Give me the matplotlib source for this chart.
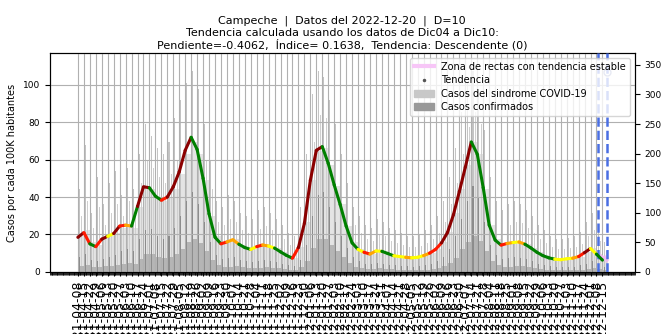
import numpy as np
import pandas as pd
import matplotlib
matplotlib.use("Agg")
import matplotlib.pyplot as plt
import matplotlib.dates as mdates
from matplotlib.lines import Line2D
from matplotlib.patches import Patch
from matplotlib.collections import LineCollection

# semanas (jueves) desde el 2021-04-08
semanas = pd.date_range("2021-04-08", periods=89, freq="7D")

# tendencia (casos por cada 100K habitantes), leida semana a semana
tendencia = [18.5, 21, 15, 13.5, 17.5, 19, 20.5, 24.5, 25, 24.5,
             35, 45.5, 45, 40.5, 38.3, 40, 45.5, 53.5, 65, 72,
             65.5, 50, 31, 18.5, 15, 16, 17.2, 14.8, 13, 12,
             13.5, 14.4, 13.8, 12.7, 10.7, 8.8, 7.3, 13, 26, 49,
             65, 67, 58, 46.5, 36, 24.5, 15.5, 12, 10.5, 9.5,
             11.2, 11, 9.8, 8.6, 8.2, 7.8, 7.5, 7.8, 8.7, 10,
             12, 15.5, 21, 30.5, 43, 56, 69.5, 63, 45, 25,
             17, 14.3, 15.2, 15.7, 16, 14.8, 12.8, 10.5, 8.7, 7.5,
             6.8, 6.5, 7, 7.3, 8.2, 10.3, 12.5, 9.5, 6.3]

# codigo de color de la tendencia en cada semana
codigos = ("RrgrRyRrog" "RRggrRRRRg" "ggggrooggy" "roygggrRRR" "Rggggggyro"
           "yggyyoyyor" "rRRRRRgggg" "groyoggggg" "yyyorRygg")
colores = {"R": "#8b0000", "r": "#ff1a00", "o": "#ffa500", "y": "#ffff00", "g": "#008000"}

# casos diarios (eje derecho): pico semanal y nivel tipico
sind_pico = [140, 215, 100, 160, 115, 150, 170, 130, 175, 140,
             200, 250, 230, 210, 200, 220, 260, 290, 320, 340,
             310, 250, 190, 120, 110, 130, 120, 100, 95, 90,
             105, 110, 100, 90, 80, 65, 60, 110, 200, 300,
             340, 330, 290, 250, 200, 150, 110, 95, 80, 75,
             90, 85, 75, 70, 65, 60, 60, 62, 70, 80,
             95, 120, 160, 210, 270, 320, 340, 310, 240, 160,
             120, 105, 115, 120, 115, 105, 95, 80, 70, 60,
             55, 55, 58, 60, 68, 85, 100, 75, 50]
sind_base = [60, 70, 50, 45, 55, 60, 65, 75, 80, 75,
             110, 140, 140, 125, 120, 125, 140, 165, 200, 220,
             200, 155, 95, 60, 48, 50, 55, 46, 40, 38,
             42, 45, 43, 40, 34, 28, 24, 42, 85, 155,
             205, 210, 180, 145, 115, 78, 50, 38, 34, 30,
             36, 35, 31, 28, 27, 25, 24, 25, 28, 32,
             38, 50, 68, 100, 140, 180, 220, 200, 140, 80,
             55, 46, 48, 50, 51, 47, 41, 34, 28, 24,
             22, 21, 22, 23, 26, 33, 40, 30, 20]
sind_medio = [95, 120, 75, 110, 80, 100, 115, 95, 120, 100,
              150, 190, 175, 160, 150, 165, 190, 220, 255, 270,
              245, 190, 140, 85, 80, 90, 85, 70, 65, 62,
              72, 78, 70, 62, 55, 45, 42, 75, 140, 220,
              265, 260, 225, 190, 150, 110, 80, 65, 55, 52,
              62, 60, 52, 48, 45, 42, 42, 44, 48, 55,
              65, 85, 115, 150, 200, 245, 270, 250, 180, 115,
              85, 75, 80, 85, 82, 75, 65, 55, 48, 42,
              38, 38, 40, 42, 47, 60, 70, 52, 35]
conf_pico = [25, 30, 20, 18, 22, 25, 28, 35, 38, 35,
             55, 70, 72, 60, 55, 60, 75, 95, 120, 135,
             115, 85, 50, 28, 22, 24, 25, 20, 18, 16,
             18, 20, 18, 16, 14, 12, 10, 20, 45, 95,
             130, 135, 110, 85, 60, 40, 25, 18, 14, 13,
             15, 14, 12, 11, 10, 10, 9, 10, 12, 14,
             18, 25, 38, 60, 90, 120, 145, 125, 85, 45,
             28, 22, 24, 25, 24, 21, 18, 14, 12, 10,
             9, 8, 9, 9, 11, 14, 18, 12, 8]
conf_base = [10, 12, 8, 8, 10, 10, 12, 14, 15, 14,
             22, 30, 30, 26, 24, 26, 30, 38, 50, 55,
             48, 35, 20, 11, 9, 9, 10, 8, 7, 6,
             7, 8, 7, 6, 5, 4, 4, 8, 18, 40,
             55, 55, 45, 35, 25, 15, 9, 7, 5, 5,
             6, 5, 5, 4, 4, 4, 3, 4, 4, 5,
             7, 10, 15, 24, 38, 50, 60, 52, 35, 18,
             11, 9, 9, 10, 10, 8, 7, 5, 4, 4,
             3, 3, 3, 4, 4, 5, 7, 5, 3]

# rectas de tendencia estable (Dic10 a Dic20)
zona_fechas = [pd.Timestamp("2022-12-13"), pd.Timestamp("2022-12-20")]
zona_valores = [[8.5, 6.0], [8.0, 7.0], [7.5, 8.0]]

lineas_corte = [pd.Timestamp("2022-12-10"), pd.Timestamp("2022-12-20")]

titulo = ("Campeche  |  Datos del 2022-12-20  |  D=10\n"
          "Tendencia calculada usando los datos de Dic04 a Dic10:\n"
          "Pendiente=-0.4062,  Índice= 0.1638,  Tendencia: Descendente (0)")

fig, ax = plt.subplots(figsize=(6.64, 3.34), dpi=100)
fig.subplots_adjust(left=0.075, right=0.956, top=0.841, bottom=0.186)
ax2 = ax.twinx()

# barras en el eje derecho
mitad = semanas + pd.Timedelta(days=3.5)
ax2.bar(mitad, sind_base, width=7, color="#e4e4e4", lw=0)
ax2.bar(semanas + pd.Timedelta(days=2), sind_pico, width=1.2, color="#c4c4c4", lw=0)
ax2.bar(semanas + pd.Timedelta(days=4.5), sind_medio, width=1.0, color="#cfcfcf", lw=0)
ax2.bar(mitad, conf_base, width=7, color="#b5b5b5", lw=0)
ax2.bar(semanas + pd.Timedelta(days=2), conf_pico, width=1.2, color="#8c8c8c", lw=0)
ax2.set_ylim(0, 370)
ax2.set_yticks(range(0, 351, 50))
ax2.tick_params(labelsize=6.5)
ax2.set_ylabel("Casos diarios totales", fontsize=7)

# tendencia en el eje izquierdo
ax.set_zorder(ax2.get_zorder() + 1)
ax.patch.set_visible(False)
xs = mdates.date2num(semanas)
pts = np.column_stack([xs, tendencia])
segs = np.stack([pts[:-1], pts[1:]], axis=1)
cols = [colores[c] for c in codigos]
ax.add_collection(LineCollection(segs, colors=cols[:-1], linewidths=2.2, zorder=4))
ax.scatter(xs, tendencia, c=cols, s=5, zorder=5, lw=0)

for vals in zona_valores:
    ax.plot(zona_fechas, vals, color="#f2b8f2", lw=2.5, alpha=0.7, zorder=3)
for xc in lineas_corte:
    ax.axvline(xc, color="#4a6fe3", lw=1.8, ls="--", zorder=3)
ax.plot([lineas_corte[1]], [107], marker="o", mfc="none", mec="#8a96c8", ms=5, zorder=2)

ax.set_ylim(0, 117)
ax.set_xlim(pd.Timestamp("2021-03-06"), pd.Timestamp("2023-01-22"))
ax.set_yticks(range(0, 101, 20))
ax.tick_params(axis="y", labelsize=6.5)
ax.set_ylabel("Casos por cada 100K habitantes", fontsize=7)
ax.set_xticks(semanas)
ax.xaxis.set_major_formatter(mdates.DateFormatter("%Y-%m-%d"))
ax.xaxis.set_minor_locator(mdates.DayLocator())
ax.tick_params(axis="x", labelsize=9, rotation=90, length=3)
ax.tick_params(axis="x", which="minor", length=2)
ax.grid(True, color="#b0b0b0", lw=0.8)
ax.set_axisbelow(True)

handles = [Line2D([], [], color="#f7c6f7", lw=3),
           Line2D([], [], color="#555555", marker=".", ls="", ms=3),
           Patch(color="#c8c8c8"), Patch(color="#999999")]
labels = ["Zona de rectas con tendencia estable", "Tendencia",
          "Casos del sindrome COVID-19", "Casos confirmados"]
leg = ax.legend(handles, labels, loc="upper right", fontsize=7, framealpha=0.8,
                labelspacing=0.35)
leg.set_zorder(10)

ax.set_title(titulo, fontsize=8, pad=3)
fig.savefig("out.png", dpi=100)
